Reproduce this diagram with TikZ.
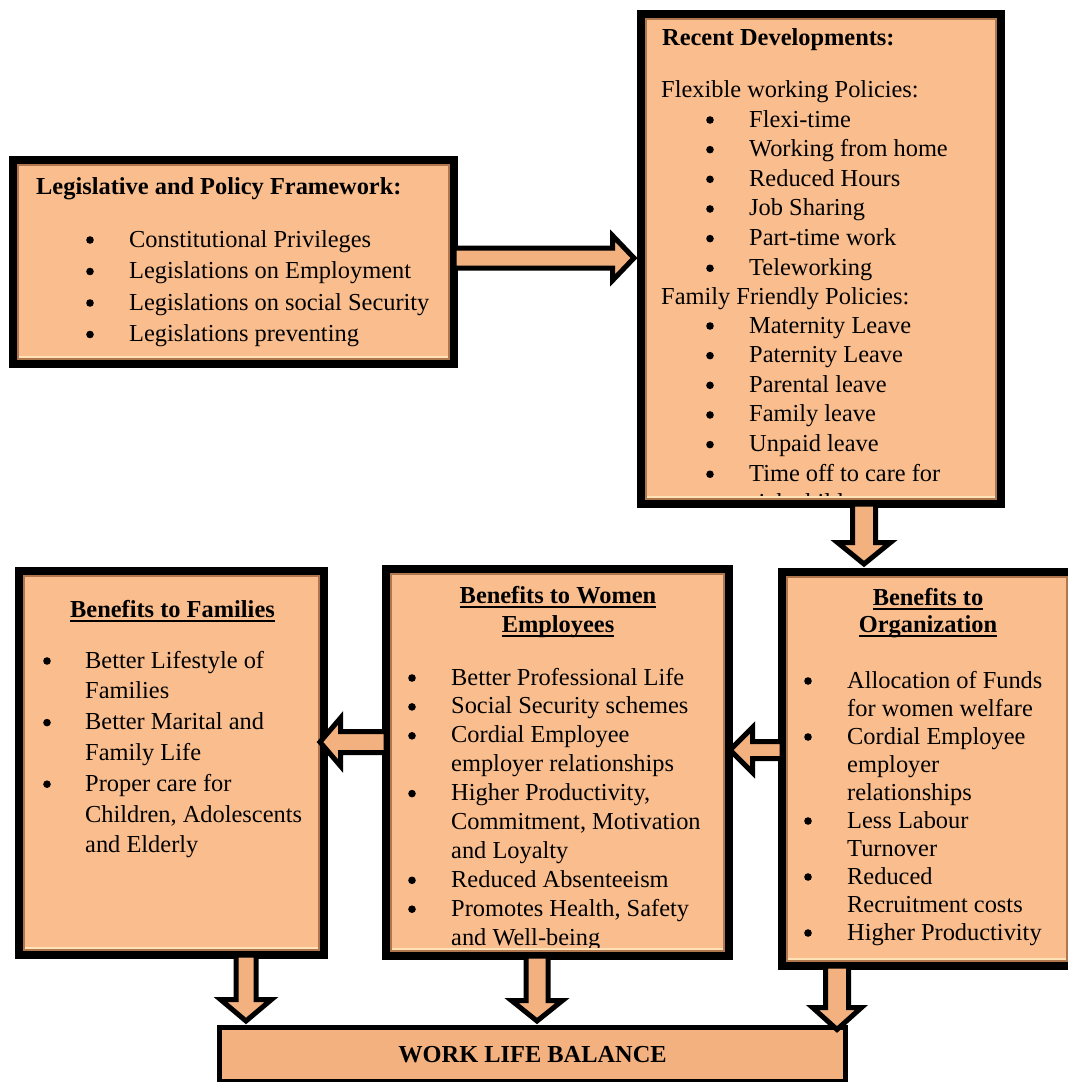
\documentclass[tikz,border=0pt]{standalone}
\usepackage{fontspec}
\setmainfont{Liberation Serif}
\usetikzlibrary{calc}

\definecolor{peach}{RGB}{250,190,142}
\definecolor{arrowfill}{RGB}{243,177,127}
\definecolor{rimdark}{RGB}{176,118,78}
\definecolor{rimlight}{RGB}{255,226,182}

\tikzset{
  pbox/.style={draw=black, line width=8pt, fill=peach, inner sep=0pt, outer sep=4pt, rectangle},
  wlbbox/.style={draw=black, line width=5pt, fill=arrowfill, inner sep=0pt, outer sep=2.5pt, rectangle},
  blockarrow/.style={draw=black, line width=5pt, fill=arrowfill, miter limit=10},
  txt/.style={anchor=base west, inner sep=0pt, font=\fontsize{24.4}{29}\selectfont},
  ttl/.style={anchor=base, inner sep=0pt, font=\fontsize{24.4}{29}\selectfont\bfseries},
  ttlw/.style={anchor=base west, inner sep=0pt, font=\fontsize{24.4}{29}\selectfont\bfseries},
  uline/.style={line width=1.6pt},
}

% bevelled inner rim of a framed box
\newcommand\bevelframe[1]{%
  \draw[rimdark, line width=2pt] ($(#1.north west)+(9,9)$) rectangle ($(#1.south east)+(-9,-9)$);
  \draw[rimlight, line width=2.5pt] ($(#1.south west)+(10,-11)$) -- ($(#1.south east)+(-10,-11)$);
}
% clip to the inside of a framed box
\newcommand\innerclip[1]{\clip ($(#1.north west)+(8,8)$) rectangle ($(#1.south east)+(-8,-8)$);}
% underline below a title line
\newcommand\ttlunderline[1]{\draw[uline] ($(#1.base west)+(0,4)$) -- ($(#1.base east)+(0,4)$);}

% horizontal block arrow: tail, tip, shaft half width, head half width, head length
\newcommand\blockh[5]{%
  \draw[blockarrow] let \p1=(#1), \p2=(#2), \n1={sign(\x2-\x1)} in
    (\x1,\y1+#3) -- (\x2-\n1*#5,\y1+#3) -- (\x2-\n1*#5,\y1+#4) -- (\x2,\y1)
    -- (\x2-\n1*#5,\y1-#4) -- (\x2-\n1*#5,\y1-#3) -- (\x1,\y1-#3) -- cycle;}
% vertical block arrow: tail, tip, shaft half width, head half width, head length
\newcommand\blockv[5]{%
  \draw[blockarrow] let \p1=(#1), \p2=(#2), \n1={sign(\y2-\y1)} in
    (\x1+#3,\y1) -- (\x1+#3,\y2-\n1*#5) -- (\x1+#4,\y2-\n1*#5) -- (\x1,\y2)
    -- (\x1-#4,\y2-\n1*#5) -- (\x1-#3,\y2-\n1*#5) -- (\x1-#3,\y1) -- cycle;}

\begin{document}
\begin{tikzpicture}[x=1pt, y=-1pt]
\useasboundingbox (0,0) rectangle (1068,1082);
\clip (0,0) rectangle (1068,1082);

% ---- boxes ----
\node[pbox, minimum width=441pt, minimum height=204pt] (leg) at (233.5,262) {};
\node[pbox, minimum width=360pt, minimum height=490pt] (rd)  at (821,259) {};
\node[pbox, minimum width=305pt, minimum height=384pt] (fam) at (171.5,763) {};
\node[pbox, minimum width=343pt, minimum height=387pt] (wom) at (557.5,762.5) {};
\node[pbox, minimum width=290pt, minimum height=394pt] (org) at (927,769) {};
\node[wlbbox, minimum width=626pt, minimum height=54pt,
      font=\fontsize{24.4}{29}\selectfont\bfseries] (wlb) at (532.5,1054.5) {WORK LIFE BALANCE};

% ---- legislative framework ----
\node[ttlw] (leg-t) at (36,194) {Legislative and Policy Framework:};
\foreach \t [count=\i from 0] in {Constitutional Privileges, Legislations on Employment,
    Legislations on social Security, Legislations preventing}
  \node[txt] (leg-\i) at (129,{247+31.5*\i}) {\t};
\foreach \i in {0,...,3} \fill (90,{240+31.5*\i}) circle (3.8pt);

% ---- recent developments ----
\node[ttlw] (rd-t) at (662,45) {Recent Developments:};
\node[txt] (rd-h1) at (661,97) {Flexible working Policies:};
\foreach \t [count=\i from 0] in {Flexi-time, Working from home, Reduced Hours,
    Job Sharing, Part-time work, Teleworking}
  \node[txt] (rd-a\i) at (749,{127+29.65*\i}) {\t};
\foreach \i in {0,...,5} \fill (710,{120+29.65*\i}) circle (3.8pt);
\node[txt] (rd-h2) at (661,304) {Family Friendly Policies:};
\begin{scope}
  \innerclip{rd}
  \foreach \t [count=\i from 0] in {Maternity Leave, Paternity Leave, Parental leave,
      Family leave, Unpaid leave, Time off to care for, sick children}
    \node[txt] (rd-b\i) at (749,{333+29.65*\i}) {\t};
\end{scope}
\foreach \i in {0,...,5} \fill (710,{326+29.65*\i}) circle (3.8pt);

% ---- benefits to families ----
\node[ttl] (fam-t) at (172.5,617) {Benefits to Families};
\ttlunderline{fam-t}
\foreach \t [count=\i from 0] in {Better Lifestyle of, Families, Better Marital and,
    Family Life, Proper care for, {Children, Adolescents}, and Elderly}
  \node[txt] (fam-\i) at (85,{668+30.8*\i}) {\t};
\foreach \i in {0,2,4} \fill (47,{661+30.8*\i}) circle (3.8pt);

% ---- benefits to women employees ----
\node[ttl] (wom-t1) at (558,603) {Benefits to Women};
\node[ttl] (wom-t2) at (558,632) {Employees};
\ttlunderline{wom-t1}
\ttlunderline{wom-t2}
\begin{scope}
  \innerclip{wom}
  \foreach \t [count=\i from 0] in {Better Professional Life, Social Security schemes,
      Cordial Employee, employer relationships, {Higher Productivity,},
      {Commitment, Motivation}, and Loyalty, Reduced Absenteeism,
      {Promotes Health, Safety}, and Well-being}
    \node[txt] (wom-\i) at (451,{685+28.9*\i}) {\t};
\end{scope}
\foreach \i in {0,1,2,4,7,8} \fill (412,{678+28.9*\i}) circle (3.8pt);

% ---- benefits to organization ----
\node[ttl] (org-t1) at (928,605) {Benefits to};
\node[ttl] (org-t2) at (928,632) {Organization};
\ttlunderline{org-t1}
\ttlunderline{org-t2}
\foreach \t [count=\i from 0] in {Allocation of Funds, for women welfare, Cordial Employee,
    employer, relationships, Less Labour, Turnover, Reduced, Recruitment costs,
    Higher Productivity}
  \node[txt] (org-\i) at (847,{688+28*\i}) {\t};
\foreach \i in {0,2,5,7,9} \fill (808,{681+28*\i}) circle (3.8pt);

% ---- bevelled rims ----
\foreach \b in {leg,rd,fam,wom,org} {\bevelframe{\b}}

% ---- block arrows ----
\blockh{$(leg.east)+(-4,-4)$}{$(rd.west)+(-3,0)$}{10pt}{22.5pt}{21.5pt}
\blockv{$(rd.south)+(43,-4)$}{$(org.north)+(0,-4)$}{11.5pt}{26.5pt}{21.5pt}
\blockh{$(org.west)+(4,-19)$}{$(wom.east)+(-3,0)$}{8.5pt}{22.5pt}{22.5pt}
\blockh{$(wom.west)+(4,-20.5)$}{$(fam.east)+(-8,0)$}{10.5pt}{24pt}{20.5pt}
\blockv{$(fam.south)+(74.5,-4)$}{$(wlb.north)+(0,-4)$}{10pt}{25.5pt}{21.5pt}
\blockv{$(wom.south)+(-20.5,-4)$}{$(wlb.north)+(0,-4)$}{11pt}{25.5pt}{20.5pt}
\blockv{$(org.south)+(-90,-4)$}{$(wlb.north)+(0,4.5)$}{11.5pt}{24.5pt}{22pt}
\end{tikzpicture}
\end{document}
